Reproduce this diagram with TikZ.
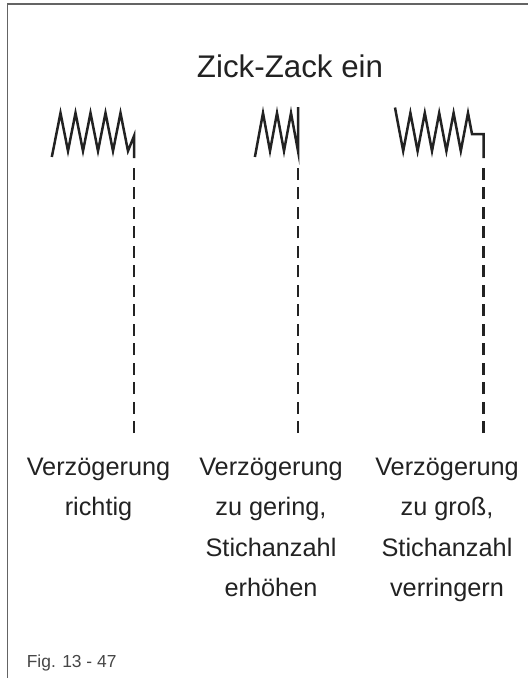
\documentclass[tikz,border=0pt]{standalone}
\usepackage{fontspec}
\setmainfont{Liberation Sans}
\usepackage{tikz}
\usetikzlibrary{positioning, calc}
\definecolor{inkgray}{RGB}{34, 34, 34}
\definecolor{framegray}{RGB}{100, 100, 100}
\definecolor{figgray}{RGB}{70, 70, 70}

\begin{document}
\begin{tikzpicture}[
          x=1pt, y=-1pt,
          zz/.style={line width=2.5pt, color=inkgray,
                     miter limit=12},
          dline/.style={line width=2.5pt, color=inkgray,
                     dash pattern=on 12pt off 7.46pt},
          frm/.style={line width=1.8pt, color=framegray},
          captxt/.style={align=center, color=inkgray,
                     font=\fontsize{25.3}{40.5}\selectfont},
      ]
      \useasboundingbox (0,0) rectangle (528,678);
      % frame
      \draw[frm] (7.5,678) -- (7.5,3.8) -- (528,3.8);
      \node[anchor=base, color=inkgray,
          font=\fontsize{31.3}{36}\selectfont] (title)
          at (290,77.3) {Zick-Zack ein};
      % zigzags
      \draw[zz] (51.8,157) -- (53,151)
          \foreach \i in {1,...,5} { -- ++(7.5,-38) -- ++(7.5,38) }
          -- (134,136) -- (134,158);
      \draw[zz] (254.9,157) -- (256,151)
          \foreach \i in {1,...,3} { -- ++(7,-38) -- ++(7,38) }
          -- ++(0,-44);
      \draw[zz] (395,107.5) -- (396,113) -- (403.2,151)
          \foreach \i in {1,...,4} { -- ++(7.2,-38) -- ++(7.2,38) }
          -- ++(7.2,-38) -- ++(4,21) -- (483.5,134) -- (483.5,158);
      % dashed lines
      \coordinate (d1b) at (134,433);
      \coordinate (d1t) at (134,168);
      \coordinate (d2b) at (298,433);
      \coordinate (d2t) at (298,168);
      \coordinate (d3b) at (483.5,433);
      \coordinate (d3t) at (483.5,168);
      \draw[dline] (d1b) -- (d1t);
      \draw[dline] (d2b) -- (d2t);
      \draw[dline] (d3b) -- (d3t);
      % captions
      \coordinate (x2) at (271,0);
      \coordinate (x3) at (447,0);
      \node[captxt, anchor=base] (c1) at (98.5,515.5)
          {Verzögerung\\richtig};
      \node[captxt, anchor=north] (c2) at (c1.north -| x2)
          {Verzögerung\\zu gering,\\Stichanzahl\\erhöhen};
      \node[captxt, anchor=north] (c3) at (c1.north -| x3)
          {Verzögerung\\zu groß,\\Stichanzahl\\verringern};
      \node[anchor=base west, color=figgray,
          font=\fontsize{17.4}{20}\selectfont] (fig)
          at (23.3,667.7) {Fig. 13 - 47};
      \end{tikzpicture}
\end{document}
